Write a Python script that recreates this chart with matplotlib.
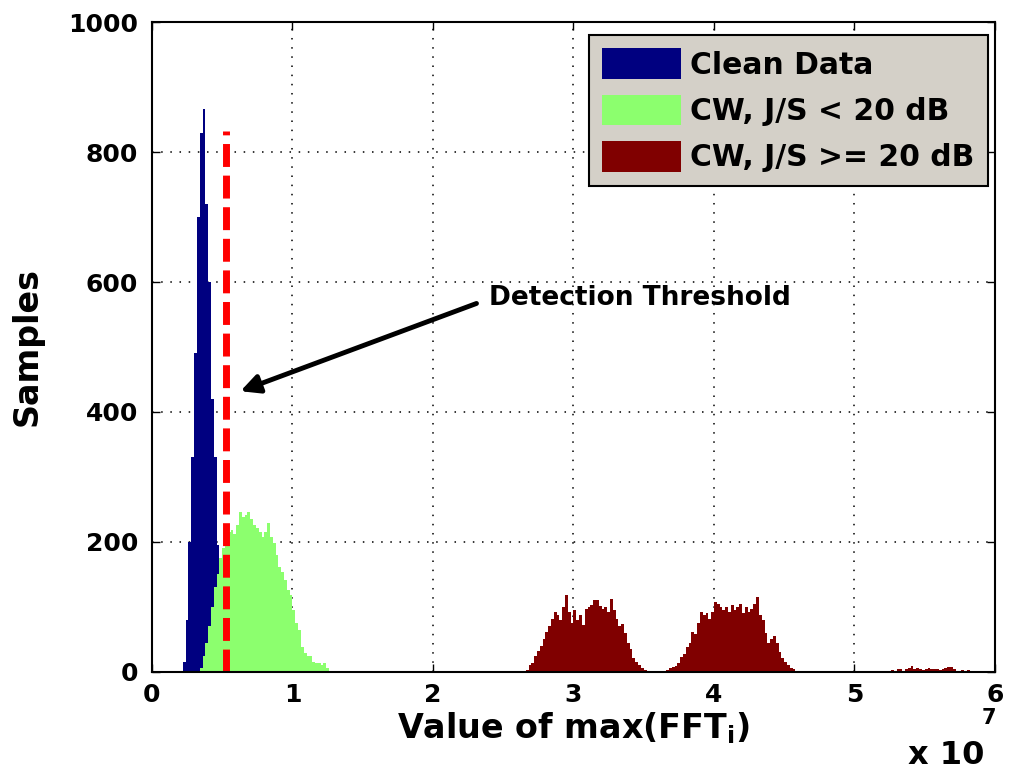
import numpy as np
import matplotlib.pyplot as plt

plt.rcParams['font.family'] = ['DejaVu Sans']
plt.rcParams['font.weight'] = 'bold'

# histogram bins, x in units of 1e7
bin_width = 0.02

clean_start = 0.22
clean_counts = [15, 80, 200, 330, 490, 700, 830, 866, 720, 600, 420, 330, 195, 60]

cw_low_start = 0.34
cw_low_counts = [6, 24, 44, 70, 100, 130, 150, 175, 190, 200, 215, 218, 213, 226,
                 246, 239, 241, 246, 236, 226, 221, 215, 208, 216, 229, 208, 198,
                 180, 162, 154, 141, 126, 118, 95, 75, 65, 39, 29, 24, 24, 16, 14,
                 14, 11, 14, 6]

# three clusters of the strong jammer series
cw_high_starts = [2.66, 3.66, 5.24]
cw_high_counts = [
    [3, 10, 14, 24, 32, 40, 50, 62, 70, 82, 92, 88, 80, 100, 118, 92, 75, 95,
     80, 87, 72, 97, 100, 103, 110, 110, 102, 97, 100, 92, 113, 95, 82, 70, 74,
     60, 44, 35, 22, 15, 11, 6, 3],
    [3, 6, 7, 9, 14, 23, 28, 38, 45, 62, 58, 75, 92, 88, 90, 82, 92, 108, 105,
     100, 95, 100, 92, 103, 95, 100, 105, 90, 100, 92, 97, 105, 115, 88, 80, 60,
     44, 50, 56, 45, 30, 22, 15, 10, 6, 4, 2],
    [2, 3, 1, 4, 5, 2, 4, 6, 9, 5, 6, 4, 3, 5, 6, 5, 4, 5, 3, 4, 6, 7, 7, 4, 2,
     1, 3, 2, 3],
]

threshold_x = 0.53
threshold_top = 832

labels = ["Clean Data", "CW, J/S < 20 dB", "CW, J/S >= 20 dB"]
colors = ["#000080", "#8cff6e", "#800000"]

fig = plt.figure(figsize=(10.09, 7.73), dpi=100)
ax = fig.add_axes([0.1506, 0.1307, 0.8355, 0.8408])

def edges(start, counts):
    return start + bin_width * np.arange(len(counts) + 1)

ax.stairs(clean_counts, edges(clean_start, clean_counts), fill=True,
          color=colors[0], label=labels[0])
ax.stairs(cw_low_counts, edges(cw_low_start, cw_low_counts), fill=True,
          color=colors[1], label=labels[1])
for i, (s, c) in enumerate(zip(cw_high_starts, cw_high_counts)):
    ax.stairs(c, edges(s, c), fill=True, color=colors[2],
              label=labels[2] if i == 0 else None)

# detection threshold
ax.plot([threshold_x, threshold_x], [0, threshold_top], color="red", lw=5,
        dashes=(3.3, 1.25), solid_capstyle="butt", dash_capstyle="butt")

ax.annotate("Detection Threshold", xy=(0.63, 432), xytext=(3.47, 575),
            fontsize=19, fontweight="bold", ha="center", va="center",
            arrowprops=dict(arrowstyle="-|>", color="k", lw=3.5,
                            mutation_scale=28, shrinkA=0, shrinkB=0,
                            relpos=(-0.04, 0.3)))

ax.set_xlim(0, 6)
ax.set_ylim(0, 1000)
ax.set_xticks(range(0, 7))
ax.set_yticks(range(0, 1001, 200))
ax.grid(True, color="k", linestyle=(0, (1, 5)), lw=1.1)
ax.set_axisbelow(True)
ax.tick_params(direction="in", length=6, width=1, top=True, right=True,
               labelsize=18)
ax.tick_params(axis="y", pad=10)
ax.tick_params(axis="x", pad=8)
for sp in ax.spines.values():
    sp.set_linewidth(1.5)

ax.set_xlabel("Value of max(FFT$_\\mathbf{i}$)", fontsize=24, fontweight="bold",
              labelpad=2)
ax.set_ylabel("Samples", fontsize=24, fontweight="bold")
ax.yaxis.set_label_coords(-0.128, 0.5)

fig.text(0.976, 0.003, "x 10", fontsize=23, fontweight="bold", ha="right",
         va="bottom")
fig.text(0.973, 0.058, "7", fontsize=15, fontweight="bold", ha="left",
         va="bottom")

leg = ax.legend(loc="upper right", bbox_to_anchor=(0.992, 0.98),
                borderaxespad=0, fontsize=21.5, fancybox=False, framealpha=1,
                facecolor="#d4d0c8", edgecolor="k", handlelength=2.65,
                handleheight=1.2, handletextpad=0.3, labelspacing=0.5,
                borderpad=0.45)
leg.get_frame().set_linewidth(1.5)

fig.savefig("out.png", dpi=100)
